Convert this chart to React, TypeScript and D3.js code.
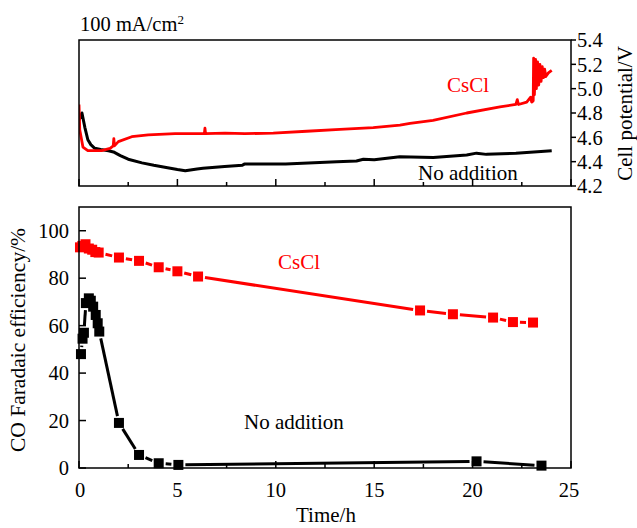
import React from "react";
import * as d3 from "d3";

// ---------- Data ----------
// Top panel: cell potential (V) vs time (h)
const potCsCl: [number, number][] = [
  [0, 4.87], [0.04, 4.66], [0.2, 4.52], [0.45, 4.49], [0.65, 4.49], [1.15, 4.49],
  [1.58, 4.51], [1.74, 4.53], [1.77, 4.59], [1.8, 4.53], [2.0, 4.565], [2.68, 4.605],
  [3.52, 4.62], [4.88, 4.63], [6.37, 4.63], [6.4, 4.675], [6.43, 4.63], [7.42, 4.635],
  [8.43, 4.63], [9.87, 4.635], [11.57, 4.65], [13.26, 4.665], [14.95, 4.68],
  [16.31, 4.70], [16.82, 4.715], [17.99, 4.74], [19.7, 4.80], [21.39, 4.85],
  [22.2, 4.87], [22.27, 4.91], [22.33, 4.87], [22.75, 4.89], [22.95, 4.93], [23.0, 4.89],
  [23.08, 4.90], [23.1, 5.25], [23.14, 4.95], [23.2, 5.24], [23.24, 5.0], [23.3, 5.22],
  [23.36, 5.03], [23.42, 5.2], [23.48, 5.06], [23.54, 5.18], [23.6, 5.09], [23.66, 5.16],
  [23.72, 5.1], [23.85, 5.13], [24.02, 5.15],
];
const potNone: [number, number][] = [
  [0, 4.74], [0.15, 4.80], [0.3, 4.68], [0.45, 4.58], [0.6, 4.54], [0.8, 4.51],
  [1.1, 4.50], [1.5, 4.49], [1.75, 4.48], [2.1, 4.45], [2.5, 4.42], [3.2, 4.39],
  [3.8, 4.37], [4.5, 4.35], [5.0, 4.335], [5.4, 4.325], [6.0, 4.34], [6.3, 4.345],
  [7.4, 4.36], [8.3, 4.37], [8.4, 4.38], [10.5, 4.38], [13.1, 4.40], [14.1, 4.405],
  [14.45, 4.42], [15.0, 4.415], [16.3, 4.44], [18.0, 4.435], [19.7, 4.455],
  [20.2, 4.47], [20.7, 4.46], [22.2, 4.47], [24.02, 4.49],
];

// Bottom panel: CO Faradaic efficiency (%) vs time (h)
const feCsCl: [number, number][] = [
  [0.05, 93], [0.17, 93.6], [0.33, 94.3], [0.5, 92.5], [0.67, 92], [0.83, 91],
  [1.0, 90.8], [2.03, 88.7], [3.05, 87.3], [4.05, 84.6], [5.0, 82.9], [6.05, 80.7],
  [17.33, 66.4], [19.0, 64.8], [21.04, 63.4], [22.05, 61.5], [23.07, 61.3],
];
const feNone: [number, number][] = [
  [0.1, 48], [0.18, 54.5], [0.25, 57], [0.35, 69.5], [0.5, 71.5], [0.6, 70.5],
  [0.72, 68], [0.85, 64.5], [0.95, 61], [1.03, 57.5], [2.03, 19], [3.05, 5.5],
  [4.05, 2], [5.05, 1.3], [20.2, 2.8], [23.5, 1.0],
];

const xTickLabels = [0, 5, 10, 15, 20, 25];
const xTicksAll = d3.range(0, 25.001, 2.5);
const feTicks = [0, 20, 40, 60, 80, 100];
const potTicks = [4.2, 4.4, 4.6, 4.8, 5.0, 5.2, 5.4];

const RED = "#ff0000";
const FONT = "'Liberation Serif', 'Times New Roman', serif";

// ---------- Layout ----------
const L = 79, R = 571;
const topT = 40, topB = 186;
const botT = 207, botB = 468;

export default function App() {
  const x = d3.scaleLinear().domain([0, 25]).range([L, R]);
  const yPot = d3.scaleLinear().domain([4.2, 5.4]).range([topB, topT]);
  const yFe = d3.scaleLinear().domain([0, 110]).range([botB, botT]);

  const potLine = d3.line<[number, number]>().x((d) => x(d[0])).y((d) => yPot(d[1]));

  const half = 5;
  const trim = half + 2;
  const gapSegments = (data: [number, number][]) => {
    const segs: { x1: number; y1: number; x2: number; y2: number }[] = [];
    for (let i = 0; i < data.length - 1; i++) {
      const ax = x(data[i][0]), ay = yFe(data[i][1]);
      const bx = x(data[i + 1][0]), by = yFe(data[i + 1][1]);
      const dx = bx - ax, dy = by - ay;
      const d = Math.hypot(dx, dy);
      if (d <= 2 * trim) continue;
      const ux = dx / d, uy = dy / d;
      segs.push({ x1: ax + ux * trim, y1: ay + uy * trim, x2: bx - ux * trim, y2: by - uy * trim });
    }
    return segs;
  };

  const series = [
    { data: feCsCl, color: RED },
    { data: feNone, color: "#000" },
  ];

  return (
    <svg
      width={637}
      height={528}
      style={{ position: "absolute", left: 0, top: 0, background: "#fff" }}
      fontFamily={FONT}
    >
      <rect x={0} y={0} width={637} height={528} fill="#fff" />

      {/* ---------- Top panel ---------- */}
      <text x={80} y={31} fontSize={20.5} fill="#000">
        100 mA/cm<tspan fontSize={13} dy={-7}>2</tspan>
      </text>
      <clipPath id="topClip">
        <rect x={L} y={topT - 5} width={R - L} height={topB - topT + 5} />
      </clipPath>
      <g clipPath="url(#topClip)">
        <path d={potLine(potNone) || ""} fill="none" stroke="#000" strokeWidth={3} strokeLinejoin="round" />
        <path d={potLine(potCsCl) || ""} fill="none" stroke={RED} strokeWidth={2.8} strokeLinejoin="round" />
      </g>
      <rect x={L} y={topT} width={R - L} height={topB - topT} fill="none" stroke="#000" strokeWidth={1.5} />
      {xTicksAll.map((t) => (
        <line key={"tt" + t} x1={x(t)} x2={x(t)} y1={topB} y2={topB - (t % 5 === 0 ? 7 : 4)} stroke="#000" strokeWidth={1.5} />
      ))}
      {potTicks.map((v) => (
        <g key={"pt" + v}>
          <line x1={R} x2={R + 5} y1={yPot(v)} y2={yPot(v)} stroke="#000" strokeWidth={1.5} />
          <text x={577} y={yPot(v)} dy="0.35em" fontSize={20.5} fill="#000">
            {v.toFixed(1)}
          </text>
        </g>
      ))}
      <text transform="translate(632,113.5) rotate(-90)" textAnchor="middle" fontSize={21} fill="#000">
        Cell potential/V
      </text>
      <text x={447} y={91.5} fontSize={21} fill={RED}>CsCl</text>
      <text x={418} y={179.5} fontSize={21} fill="#000">No addition</text>

      {/* ---------- Bottom panel ---------- */}
      {series.map((s, si) => (
        <g key={"s" + si}>
          {gapSegments(s.data).map((g, i) => (
            <line key={i} x1={g.x1} y1={g.y1} x2={g.x2} y2={g.y2} stroke={s.color} strokeWidth={3} />
          ))}
          {s.data.map((d, i) => (
            <rect key={"m" + i} x={x(d[0]) - half} y={yFe(d[1]) - half} width={2 * half} height={2 * half} fill={s.color} />
          ))}
        </g>
      ))}
      <rect x={L} y={botT} width={R - L} height={botB - botT} fill="none" stroke="#000" strokeWidth={1.5} />
      {xTicksAll.map((t) => (
        <line key={"bt" + t} x1={x(t)} x2={x(t)} y1={botB} y2={botB - (t % 5 === 0 ? 7 : 4)} stroke="#000" strokeWidth={1.5} />
      ))}
      {xTickLabels.map((t) => (
        <text key={"bl" + t} x={x(t) + (t === 0 ? 1 : t === 25 ? -2 : 0)} y={497} textAnchor="middle" fontSize={20.5} fill="#000">
          {t}
        </text>
      ))}
      {feTicks.map((v) => (
        <g key={"ft" + v}>
          <line x1={L} x2={L + 7} y1={yFe(v)} y2={yFe(v)} stroke="#000" strokeWidth={1.5} />
          <text x={69} y={yFe(v)} dy="0.35em" textAnchor="end" fontSize={20.5} fill="#000">
            {v}
          </text>
        </g>
      ))}
      <text transform="translate(25,340) rotate(-90)" textAnchor="middle" fontSize={21.5} fill="#000">
        CO Faradaic efficiency/%
      </text>
      <text x={326} y={522} textAnchor="middle" fontSize={21} fill="#000">Time/h</text>
      <text x={278} y={268.5} fontSize={21} fill={RED}>CsCl</text>
      <text x={244} y={429} fontSize={21} fill="#000">No addition</text>
    </svg>
  );
}
